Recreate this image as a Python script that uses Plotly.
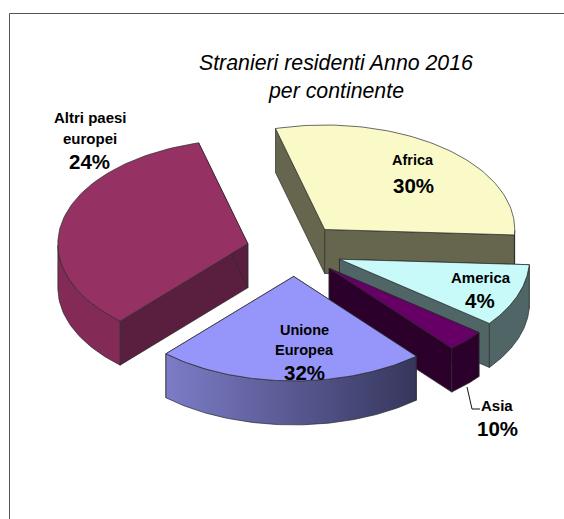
import numpy as np
import plotly.graph_objects as go

# --- data ---
categories = ["Africa", "America", "Asia", "Unione Europea", "Altri paesi europei"]
slice_shares = [30, 9.7, 3.3, 22.9, 34.1]      # share of the circle as drawn
printed_percent = ["30%", "4%", "10%", "32%", "24%"]  # percentages printed beside the slices

# --- style and projection ---
top_colors = ["#FAFAC8", "#C8FAFA", "#660066", "#9696FA", "#963263"]
radial_colors = ["#66664F", "#506666", "#2B002B", "#3A3A66", "#5A1F3F"]
arc_colors = ["#66664F", "#506666", "#2B002B", "#3A3A66", "#832A56"]
CX, CY = 294.5, 250.0
RX, RY = 190.0, 104.5
EXPLODE = 48.0
DEPTH = 44.0
START_DEG = 105.0
EDGE = "#2A2A2A"


def project(t, r_frac, ox, oy):
    return ox + RX * r_frac * np.cos(t), oy - RY * r_frac * np.sin(t)


def poly(fig, xs, ys, color, **kw):
    fig.add_trace(go.Scatter(x=list(xs), y=list(ys), mode="lines", fill="toself",
                             fillcolor=color, line=dict(color=EDGE, width=0.7),
                             hoverinfo="skip", showlegend=False, **kw))


fig = go.Figure()

total = sum(slice_shares)
edges = START_DEG - np.cumsum([0] + slice_shares) * 360.0 / total
slices = []
for i, name in enumerate(categories):
    t0, t1 = np.radians(edges[i]), np.radians(edges[i + 1])
    mid = (t0 + t1) / 2
    ox = CX + EXPLODE * np.cos(mid)
    oy = CY - EXPLODE * RY / RX * np.sin(mid)
    slices.append((i, t0, t1, ox, oy))

# painter's order: back slices first
for i, t0, t1, ox, oy in [slices[k] for k in (4, 0, 1, 2, 3)]:
    ts = np.linspace(t0, t1, 90)
    ax, ay = project(ts, 1.0, ox, oy)

    # radial walls
    for t in (t0, t1):
        ex, ey = project(t, 1.0, ox, oy)
        poly(fig, [ox, ex, ex, ox, ox], [oy, ey, ey + DEPTH, oy + DEPTH, oy], radial_colors[i])

    # outer wall: only the part of the arc that faces the viewer
    front = np.sin(ts) <= 0
    if front.sum() > 1:
        fx, fy = ax[front], ay[front]
        xs = np.concatenate([fx, fx[::-1], fx[:1]])
        ys = np.concatenate([fy, fy[::-1] + DEPTH, fy[:1]])
        if i == 3:
            fig.add_trace(go.Scatter(
                x=xs, y=ys, mode="lines", fill="toself",
                fillgradient=dict(type="horizontal",
                                  colorscale=[[0, "#7C7CC8"], [1, "#36365C"]]),
                line=dict(color=EDGE, width=0.7), hoverinfo="skip", showlegend=False))
        else:
            poly(fig, xs, ys, arc_colors[i])

    # top face
    poly(fig, np.concatenate([[ox], ax, [ox]]), np.concatenate([[oy], ay, [oy]]), top_colors[i])

# leader line of the Asia label
fig.add_trace(go.Scatter(x=[467, 472, 480], y=[387, 409, 409], mode="lines",
                         line=dict(color="#111111", width=1), hoverinfo="skip", showlegend=False))

# outer frame (runs off the right and bottom of the picture)
fig.add_trace(go.Scatter(x=[9.5, 9.5, 564], y=[519, 13.5, 13.5], mode="lines",
                         line=dict(color="#555555", width=1), hoverinfo="skip", showlegend=False))

annotations = []


def label(x, y, text, size, bold=True, italic=False):
    if bold:
        text = "<b>%s</b>" % text
    if italic:
        text = "<i>%s</i>" % text
    annotations.append(dict(x=x, y=y, xref="x", yref="y", text=text, showarrow=False,
                            font=dict(family="Liberation Sans", size=size, color="#000000"),
                            xanchor="center", yanchor="middle"))


label(336, 63, "Stranieri residenti Anno 2016", 21.3, bold=False, italic=True)
label(336, 91, "per continente", 21.3, bold=False, italic=True)

label(90, 117, "Altri paesi", 15)
label(90, 138, "europei", 15)
label(89, 161, printed_percent[4], 20.5)

label(413, 160, "Africa", 14.5)
label(413, 185, printed_percent[0], 20.5)

label(481, 277, "America", 15)
label(480, 300, printed_percent[1], 20.5)

label(304, 330, "Unione", 14.5)
label(304, 350, "Europea", 14.5)
label(304, 372, printed_percent[3], 20.5)

label(497, 405, "Asia", 15)
label(497, 428, printed_percent[2], 20.5)

fig.update_layout(
    width=564, height=519, autosize=False,
    margin=dict(l=0, r=0, t=0, b=0, pad=0),
    paper_bgcolor="#FFFFFF", plot_bgcolor="#FFFFFF",
    showlegend=False, annotations=annotations,
    xaxis=dict(range=[0, 564], visible=False, fixedrange=True),
    yaxis=dict(range=[519, 0], visible=False, fixedrange=True),
)

fig.write_html("out.html", config={"displayModeBar": False},
               post_script="document.body.style.margin='0';document.documentElement.style.overflow='hidden';")
